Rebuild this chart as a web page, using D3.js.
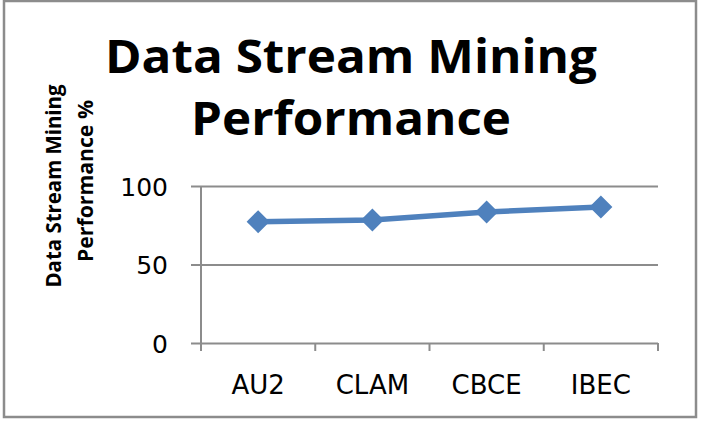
<!doctype html>
<html lang="en">
<head>
<meta charset="UTF-8">
<title>Data Stream Mining Performance</title>
<script src="https://d3js.org/d3.v7.min.js"></script>
<style>
    html, body { margin: 0; padding: 0; background: #fff; }
</style>
</head>
<body>
<div id="chart-area"></div>

<script>

const categories = ['AU2', 'CLAM', 'CBCE', 'IBEC'];
const performance = [77.3, 78.4, 83.4, 86.6];
const yTicks = [0, 50, 100];
const titleLines = ['Data Stream Mining', 'Performance'];
const yTitleLines = ['Data Stream Mining', 'Performance %'];

const W = 705, H = 430;
const plot = { left: 201, right: 658, top: 186, bottom: 343 };

const svg = d3.select('#chart-area')
    .append('svg')
    .attr('width', W)
    .attr('height', H);

// outer frame
svg.append('rect')
    .attr('x', 4).attr('y', 1)
    .attr('width', 692).attr('height', 416)
    .attr('fill', '#fff')
    .attr('stroke', '#8c8c8c')
    .attr('stroke-width', 2.5);

const x = d3.scaleBand()
    .domain(categories)
    .range([plot.left, plot.right]);

const y = d3.scaleLinear()
    .domain([0, 100])
    .range([plot.bottom, plot.top]);

// gridlines + y axis
const yAxis = d3.axisLeft(y)
    .tickValues(yTicks)
    .tickSize(-(plot.right - plot.left))
    .tickPadding(0)
    .tickFormat(d3.format('d'));

const yg = svg.append('g')
    .attr('transform', `translate(${plot.left},0)`)
    .call(yAxis);
yg.select('.domain').remove();
yg.selectAll('line')
    .attr('x1', -10)
    .attr('stroke', '#8c8c8c')
    .attr('stroke-width', 2);
yg.selectAll('text')
    .attr('x', -33)
    .attr('dy', '0.36em')
    .attr('fill', '#000')
    .attr('font-family', 'DejaVu Sans')
    .attr('font-size', '25px');

// vertical axis line
svg.append('line')
    .attr('x1', plot.left).attr('x2', plot.left)
    .attr('y1', plot.top).attr('y2', plot.bottom + 8)
    .attr('stroke', '#8c8c8c')
    .attr('stroke-width', 2);

// x axis tick marks at band edges
const edges = categories.map(c => x(c)).concat([plot.right]);
svg.append('g').selectAll('line')
    .data(edges)
    .join('line')
    .attr('x1', d => d).attr('x2', d => d)
    .attr('y1', plot.bottom).attr('y2', plot.bottom + 8)
    .attr('stroke', '#8c8c8c')
    .attr('stroke-width', 2);

// x labels
svg.append('g').selectAll('text')
    .data(categories)
    .join('text')
    .attr('x', d => x(d) + x.bandwidth() / 2)
    .attr('y', 394)
    .attr('text-anchor', 'middle')
    .attr('font-family', 'DejaVu Sans')
    .attr('font-size', '26px')
    .text(d => d);

// series line
const pts = categories.map((c, i) => ({ c, v: performance[i] }));
const line = d3.line()
    .x(d => x(d.c) + x.bandwidth() / 2)
    .y(d => y(d.v));

svg.append('path')
    .datum(pts)
    .attr('d', line)
    .attr('fill', 'none')
    .attr('stroke', '#4f81bd')
    .attr('stroke-width', 5.5)
    .attr('stroke-linejoin', 'round');

svg.append('g').selectAll('path')
    .data(pts)
    .join('path')
    .attr('d', d3.symbol(d3.symbolSquare, 265))
    .attr('transform', d => `translate(${x(d.c) + x.bandwidth() / 2},${y(d.v)}) rotate(45)`)
    .attr('fill', '#4f81bd');

// title
const titleBase = [73, 135];
const titleLen = [492, 320];
svg.append('g').selectAll('text')
    .data(titleLines)
    .join('text')
    .attr('x', 351)
    .attr('y', (d, i) => titleBase[i])
    .attr('text-anchor', 'middle')
    .attr('font-family', 'Open Sans')
    .attr('font-weight', 'bold')
    .attr('font-size', '46px')
    .attr('textLength', (d, i) => titleLen[i])
    .attr('lengthAdjust', 'spacingAndGlyphs')
    .text(d => d);

// y axis title
const yTitleBase = [61, 93];
const yTitleMid = [186, 181];
const yTitleLen = [203, 162];
svg.append('g').selectAll('text')
    .data(yTitleLines)
    .join('text')
    .attr('transform', (d, i) => `translate(${yTitleBase[i]},${yTitleMid[i]}) rotate(-90)`)
    .attr('text-anchor', 'middle')
    .attr('font-family', 'Open Sans')
    .attr('font-weight', 'bold')
    .attr('font-size', '22px')
    .attr('textLength', (d, i) => yTitleLen[i])
    .attr('lengthAdjust', 'spacingAndGlyphs')
    .text(d => d);

</script>
</body>
</html>
